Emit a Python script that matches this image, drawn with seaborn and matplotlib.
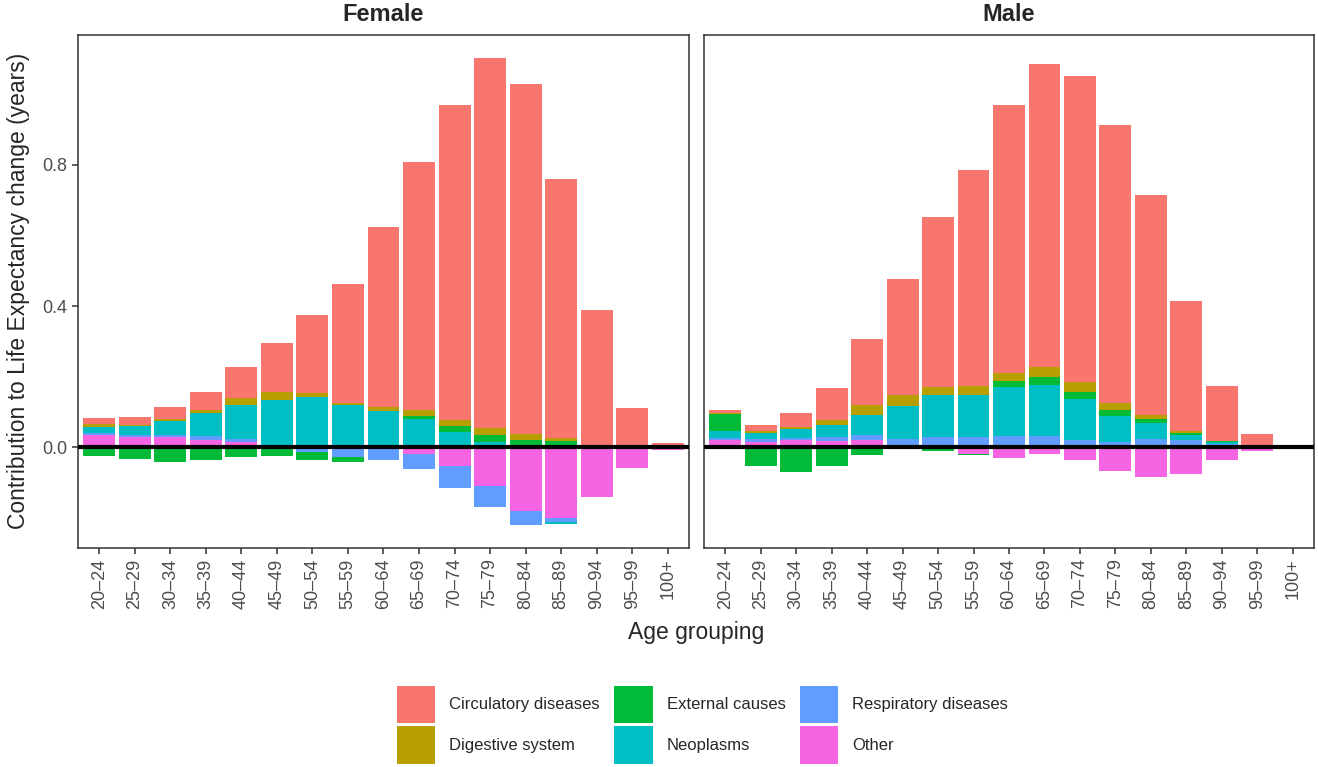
import numpy as np
import matplotlib
matplotlib.use("Agg")
import matplotlib.pyplot as plt
import seaborn as sns
from matplotlib.patches import Patch

ages = ["20–24", "25–29", "30–34", "35–39", "40–44", "45–49", "50–54", "55–59",
        "60–64", "65–69", "70–74", "75–79", "80–84", "85–89", "90–94", "95–99", "100+"]
causes = ["Circulatory diseases", "Digestive system", "External causes",
          "Neoplasms", "Respiratory diseases", "Other"]
colors = ["#F8766D", "#B79F00", "#00BA38", "#00BFC4", "#619CFF", "#F564E3"]

# contributions (years)
female_circ = [0.017, 0.020, 0.036, 0.051, 0.090, 0.140, 0.222, 0.337, 0.510, 0.702,
               0.893, 1.048, 0.991, 0.733, 0.381, 0.112, 0.011]
female_dig = [0.0075, 0.0056, 0.0056, 0.0075, 0.019, 0.0225, 0.011, 0.0056, 0.011, 0.017,
              0.017, 0.0197, 0.017, 0.0085, 0.0, 0.0, 0.0]
female_ext = [-0.025, -0.034, -0.042, -0.037, -0.028, -0.025, -0.0225, -0.014, 0.0, 0.0085,
              0.017, 0.0197, 0.0197, 0.017, 0.005, 0.0, 0.0]
female_neo = [0.017, 0.0244, 0.039, 0.066, 0.097, 0.126, 0.142, 0.119, 0.104, 0.079,
              0.042, 0.014, 0.002, -0.0056, 0.003, 0.0, 0.0]
female_resp = [0.0056, 0.0056, 0.0056, 0.0113, 0.0085, 0.006, -0.013, -0.028, -0.031, -0.042,
               -0.062, -0.059, -0.039, -0.011, 0.0, 0.0, 0.0]
female_other = [0.0347, 0.029, 0.029, 0.0197, 0.014, 0.002, 0.0, 0.0, -0.005, -0.0197,
                -0.0535, -0.110, -0.180, -0.200, -0.141, -0.059, -0.008]

male_circ = [0.0103, 0.016, 0.039, 0.093, 0.186, 0.329, 0.480, 0.610, 0.760, 0.857,
             0.865, 0.786, 0.623, 0.369, 0.154, 0.0366, 0.0]
male_dig = [0.0038, 0.0056, 0.0056, 0.013, 0.030, 0.032, 0.025, 0.026, 0.0225, 0.028,
            0.028, 0.0197, 0.014, 0.0056, 0.002, 0.0, 0.0]
male_ext = [0.048, -0.0535, -0.070, -0.0535, -0.0225, 0.0, -0.008, -0.003, 0.015, 0.0225,
            0.0197, 0.017, 0.0113, 0.0056, 0.003, 0.0, 0.0]
male_neo = [0.0197, 0.018, 0.028, 0.035, 0.057, 0.093, 0.119, 0.121, 0.141, 0.146,
            0.118, 0.076, 0.045, 0.014, 0.004, 0.0, 0.0]
male_resp = [0.0056, 0.0085, 0.0056, 0.0103, 0.014, 0.0197, 0.028, 0.028, 0.031, 0.031,
             0.0197, 0.014, 0.0225, 0.0197, 0.010, 0.0, 0.0]
male_other = [0.0197, 0.014, 0.0197, 0.018, 0.0197, 0.004, -0.003, -0.0197, -0.031, -0.0197,
              -0.0366, -0.0676, -0.0845, -0.076, -0.0366, -0.010, 0.0]

panels = {
    "Female": [female_circ, female_dig, female_ext, female_neo, female_resp, female_other],
    "Male": [male_circ, male_dig, male_ext, male_neo, male_resp, male_other],
}

sns.set_style("white")
plt.rcParams["font.family"] = ["Liberation Sans", "DejaVu Sans"]


def stacked(series):
    """Cumulative positive / negative stacks, Other closest to zero."""
    pos = np.zeros(len(ages))
    neg = np.zeros(len(ages))
    cum_pos, cum_neg = [None] * len(series), [None] * len(series)
    for i in reversed(range(len(series))):
        v = np.asarray(series[i], dtype=float)
        pos = pos + np.clip(v, 0, None)
        neg = neg + np.clip(v, None, 0)
        cum_pos[i], cum_neg[i] = pos.copy(), neg.copy()
    return cum_pos, cum_neg


stacks = {k: stacked(v) for k, v in panels.items()}
lo = min(s[1][0].min() for s in stacks.values())
hi = max(s[0][0].max() for s in stacks.values())
pad = 0.05 * (hi - lo)

fig = plt.figure(figsize=(13.18, 7.67), dpi=100)
ax_f = fig.add_axes([78 / 1318, 219 / 767, 611 / 1318, 513 / 767])
ax_m = fig.add_axes([704 / 1318, 219 / 767, 610 / 1318, 513 / 767])

for ax, name in [(ax_f, "Female"), (ax_m, "Male")]:
    cum_pos, cum_neg = stacks[name]
    # outermost layer first so inner layers paint over it
    for i, col in enumerate(colors):
        for vals in (cum_pos[i], cum_neg[i]):
            sns.barplot(x=ages, y=vals, order=ages, color=col, saturation=1,
                        width=0.9, linewidth=0, errorbar=None, ax=ax)
    ax.axhline(0, color="black", lw=3, zorder=5)
    ax.set_xlim(-0.6, len(ages) - 0.4)
    ax.set_ylim(lo - pad, hi + pad)
    ax.set_yticks([0.0, 0.4, 0.8])
    ax.set_yticklabels(["0.0", "0.4", "0.8"])
    ax.set_xlabel("")
    ax.set_ylabel("")
    ax.set_title(name, fontweight="bold", fontsize=17, pad=10)
    for sp in ax.spines.values():
        sp.set_visible(True)
        sp.set_color("#333333")
        sp.set_linewidth(1.1)
    ax.tick_params(axis="both", direction="out", length=4.5, width=1.1, color="#333333",
                   labelcolor="#4D4D4D", labelsize=13, pad=3)
    ax.tick_params(axis="x", rotation=90, bottom=True)
    ax.tick_params(axis="y", left=True)

ax_m.tick_params(axis="y", left=False, labelleft=False)

fig.text(696 / 1318, 1 - 632 / 767, "Age grouping", ha="center", va="center", fontsize=16.5)
fig.text(19 / 1318, 1 - 291 / 767, "Contribution to Life Expectancy change (years)",
         ha="center", va="center", rotation=90, fontsize=16.5)

handles = [Patch(facecolor=c, edgecolor="none") for c in colors]
fig.legend(handles, causes, ncol=3, loc="center", bbox_to_anchor=(0.533, 0.055),
           frameon=False, fontsize=12, handlelength=2.3, handleheight=3.1,
           labelspacing=0.18, handletextpad=0.85, columnspacing=0.85, borderpad=0)

fig.savefig("out.png", dpi=100)
